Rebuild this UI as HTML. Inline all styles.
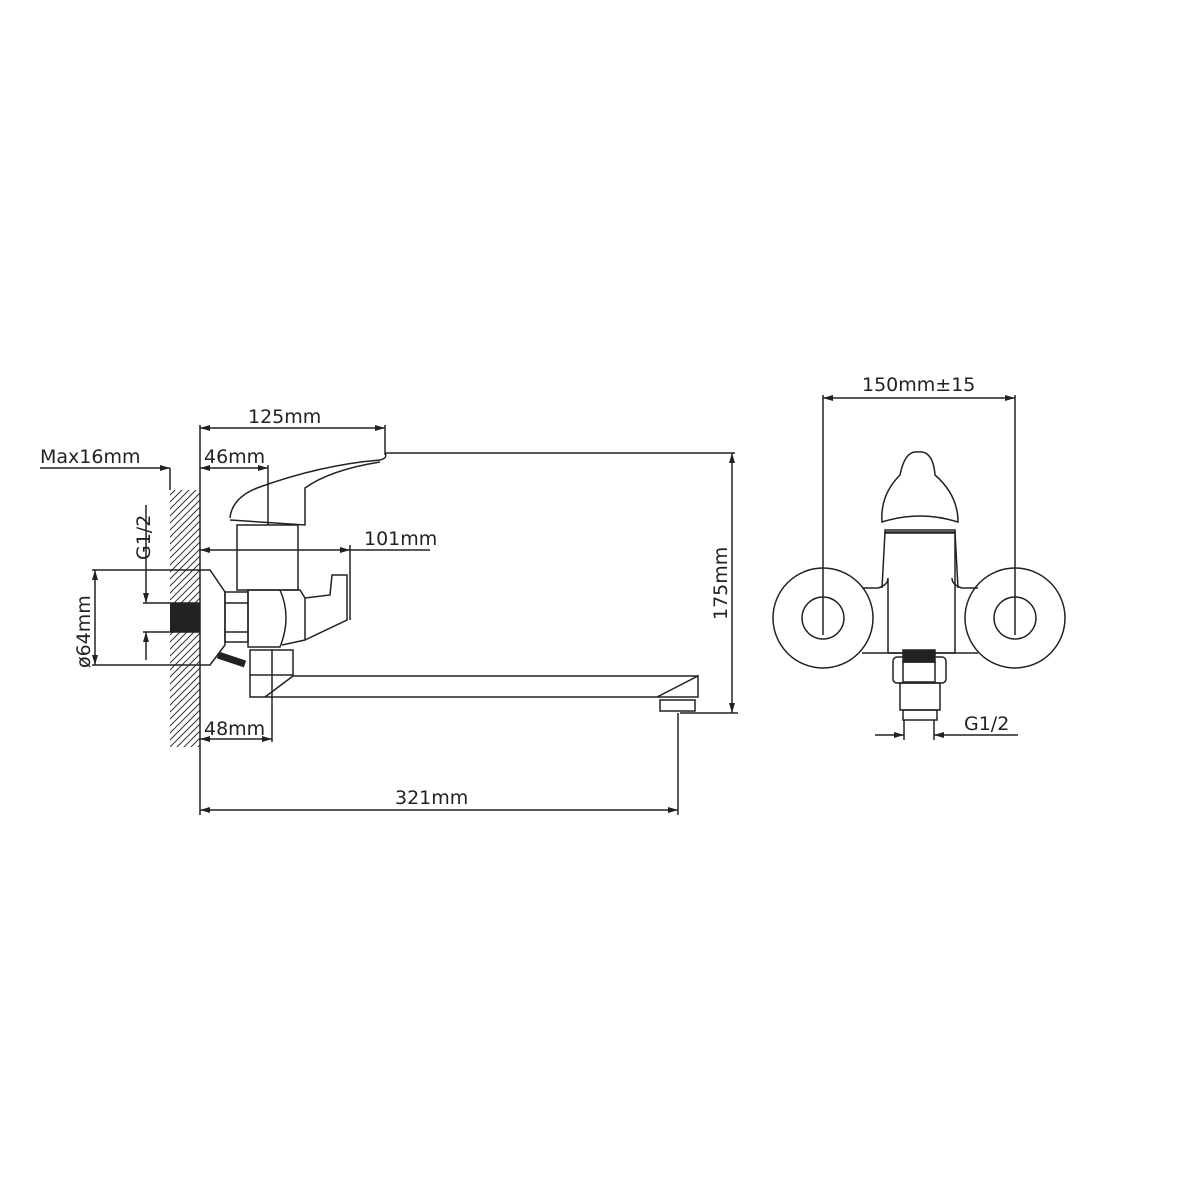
<!DOCTYPE html>
<html><head><meta charset="utf-8"><style>html,body{margin:0;padding:0;background:#fff}svg{display:block}text{font-family:"DejaVu Sans","Liberation Sans",sans-serif;font-size:19px;fill:#222}</style></head>
<body>
<svg width="1200" height="1200" viewBox="0 0 1200 1200" xmlns="http://www.w3.org/2000/svg">
<defs>
<marker id="a" viewBox="0 0 10 6" refX="10" refY="3" markerWidth="10" markerHeight="6" orient="auto-start-reverse" markerUnits="userSpaceOnUse"><path d="M0,0L10,3L0,6z" fill="#222"/></marker>
<pattern id="h" width="7" height="7" patternUnits="userSpaceOnUse"><path d="M0,7L7,0M-2,2L2,-2M5,9L9,5" stroke="#333" stroke-width="1"/></pattern>
</defs>
<g fill="none" stroke="#222" stroke-width="1.5">
<!-- wall -->
<rect x="170" y="490" width="30" height="257" fill="url(#h)" stroke="none"/>
<line x1="200" y1="425" x2="200" y2="815"/>
<line x1="170" y1="468" x2="170" y2="490"/>
<!-- dims left -->
<line x1="200" y1="428" x2="385" y2="428" marker-start="url(#a)" marker-end="url(#a)"/>
<line x1="385" y1="425" x2="385" y2="455"/>
<line x1="40" y1="468" x2="170" y2="468" marker-end="url(#a)"/>
<line x1="200" y1="468" x2="268" y2="468" marker-start="url(#a)" marker-end="url(#a)"/>
<line x1="268" y1="465" x2="268" y2="525"/>
<line x1="200" y1="550" x2="350" y2="550" marker-start="url(#a)" marker-end="url(#a)"/>
<line x1="350" y1="550" x2="430" y2="550"/>
<line x1="350" y1="545" x2="350" y2="620"/>
<line x1="385" y1="453" x2="735" y2="453"/>
<line x1="732" y1="453" x2="732" y2="713" marker-start="url(#a)" marker-end="url(#a)"/>
<line x1="680" y1="713" x2="738" y2="713"/>
<line x1="200" y1="739" x2="272" y2="739" marker-start="url(#a)" marker-end="url(#a)"/>
<line x1="272" y1="675" x2="272" y2="742"/>
<line x1="200" y1="810" x2="678" y2="810" marker-start="url(#a)" marker-end="url(#a)"/>
<line x1="678" y1="713" x2="678" y2="815"/>
<line x1="92" y1="570" x2="200" y2="570"/>
<line x1="92" y1="665" x2="200" y2="665"/>
<line x1="95" y1="570" x2="95" y2="665" marker-start="url(#a)" marker-end="url(#a)"/>
<line x1="143" y1="603" x2="200" y2="603"/>
<line x1="143" y1="632" x2="200" y2="632"/>
<line x1="146" y1="505" x2="146" y2="603" marker-end="url(#a)"/>
<line x1="146" y1="660" x2="146" y2="632" marker-end="url(#a)"/>
<!-- faucet side -->
<path d="M230,518 Q232,498 257,488 Q320,465 380,460 Q388,458 385,453 M380,462 Q330,470 305,488 L305,525 L230,520"/>
<rect x="237" y="525" width="61" height="65"/>
<path d="M200,570 L210,570 L225,592 L225,645 L210,665 L200,665"/>
<rect x="170" y="603" width="30" height="29" fill="#222" stroke="none"/>
<rect x="225" y="592" width="23" height="50"/>
<line x1="225" y1="603" x2="248" y2="603"/><line x1="225" y1="632" x2="248" y2="632"/>
<path d="M248,590 L280,590 Q292,617 280,647 L248,647 Z"/>
<path d="M282,590 L300,590 L305,598 L305,640 L282,645"/>
<path d="M305,598 L330,595 L332,575 L347,575 L347,620 L305,640"/>
<line x1="218" y1="655" x2="245" y2="664" stroke-width="7"/>
<rect x="250" y="650" width="43" height="25"/><line x1="272" y1="650" x2="272" y2="675"/>
<path d="M250,675 L250,697 L265,697 L293,676 M265,697 L657,697 L698,676 L698,697 L657,697 M293,676 L698,676"/>
<rect x="660" y="700" width="35" height="11"/>
<!-- front view -->
<line x1="823" y1="398" x2="1015" y2="398" marker-start="url(#a)" marker-end="url(#a)"/>
<line x1="823" y1="395" x2="823" y2="635"/><line x1="1015" y1="395" x2="1015" y2="635"/>
<circle cx="823" cy="618" r="50"/><circle cx="823" cy="618" r="21"/>
<circle cx="1015" cy="618" r="50"/><circle cx="1015" cy="618" r="21"/>
<path d="M862,588 L878,588 Q888,585 888,578 L888,653 M952,578 Q952,585 962,588 L978,588 M862,653 L978,653"/>
<path d="M885,532 L882,588 M955,532 L958,588"/>
<rect x="885" y="530" width="70" height="3"/>
<path d="M882,522 Q880,495 900,475 Q905,450 918,452 Q933,450 935,475 Q958,495 958,522 Q920,510 882,522Z"/>
<path d="M885,532 L955,532 L955,653 L888,653"/>
<rect x="903" y="650" width="32" height="12" fill="#222"/>
<rect x="893" y="657" width="53" height="26" rx="4"/>
<rect x="903" y="662" width="32" height="20"/>
<rect x="900" y="683" width="40" height="27"/>
<rect x="903" y="710" width="34" height="10"/>
<line x1="904" y1="720" x2="904" y2="740"/><line x1="934" y1="720" x2="934" y2="740"/>
<line x1="875" y1="735" x2="904" y2="735" marker-end="url(#a)"/>
<line x1="1018" y1="735" x2="934" y2="735" marker-end="url(#a)"/>
</g>
<text x="248" y="423">125mm</text>
<text x="40" y="463">Max16mm</text>
<text x="204" y="463">46mm</text>
<text x="364" y="545">101mm</text>
<text x="204" y="735">48mm</text>
<text x="395" y="804">321mm</text>
<text transform="translate(727,620) rotate(-90)">175mm</text>
<text transform="translate(90,668) rotate(-90)">ø64mm</text>
<text transform="translate(150,560) rotate(-90)">G1/2</text>
<text x="862" y="391">150mm±15</text>
<text x="964" y="730">G1/2</text>
</svg>
</body></html>
